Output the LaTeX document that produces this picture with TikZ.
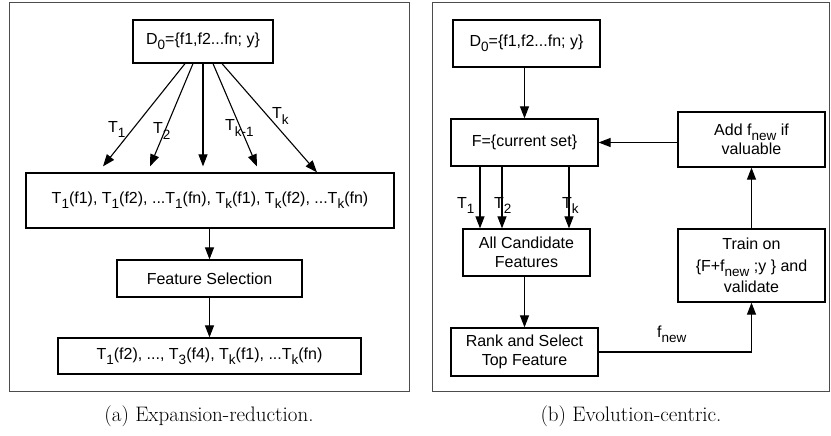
\documentclass[tikz,border=0pt]{standalone}
\usepackage{fontspec}
\newfontfamily\hv{Liberation Sans}
\usetikzlibrary{arrows.meta,calc}
\newcommand{\sbs}[1]{\raisebox{-0.33em}{\fontsize{13.5}{13.5}\selectfont #1}}
\begin{document}
\begin{tikzpicture}[x=1pt,y=-1pt,
  box/.style={draw=black,line width=1.25pt,inner sep=0pt,align=center,font=\hv\fontsize{16}{19.5}\selectfont},
  arr/.style={line width=1.1pt,-{Triangle[length=12pt,width=9pt]}},
  lbl/.style={font=\hv\fontsize{16}{16}\selectfont,inner sep=0pt,anchor=base west},
  frame/.style={draw=black!70,line width=1pt},
  captext/.style={font=\fontsize{21}{23}\selectfont,inner sep=0pt,anchor=base}]
\useasboundingbox (0,0) rectangle (831,436);
\fill[white] (0,0) rectangle (831,436);
% frames
\draw[frame] (9,3) rectangle (409,391);
\draw[frame] (432,3) rectangle (829.5,391);
% ---------- left panel
\node[box,minimum width=140pt,minimum height=43pt] (d0a) at (203,41.5) {D\sbs{0}=\{f1,f2...fn; y\}};
\node[box,minimum width=368pt,minimum height=55pt] (big) at (210,200.5)
  {T\sbs{1}(f1), T\sbs{1}(f2), ...T\sbs{1}(fn), T\sbs{k}(f1), T\sbs{k}(f2), ...T\sbs{k}(fn)};
\node[box,minimum width=185pt,minimum height=37pt] (fs) at (209.5,278.5) {Feature Selection};
\node[box,minimum width=303pt,minimum height=36pt] (bot) at (209.5,356)
  {T\sbs{1}(f2), ..., T\sbs{3}(f4), T\sbs{k}(f1), ...T\sbs{k}(fn)};
\draw[arr] ([xshift=-18pt]d0a.south) -- ([xshift=-107pt,yshift=6pt]big.north);
\draw[arr] ([xshift=-10pt]d0a.south) -- ([xshift=-60pt,yshift=6pt]big.north);
\draw[arr] (d0a.south) -- ([xshift=-7pt,yshift=6pt]big.north);
\draw[arr] ([xshift=10pt]d0a.south) -- ([xshift=47pt,yshift=6pt]big.north);
\draw[arr] ([xshift=19pt]d0a.south) -- ([xshift=107pt]big.north);
\node[lbl] (l1) at (108,132) {T\sbs{1}};
\node[lbl] (l2) at (153,134) {T\sbs{2}};
\node[lbl] (l3) at (225,131) {T\sbs{k-1}};
\node[lbl] (l4) at (272,119) {T\sbs{k}};
\draw[arr] (big.south -| fs.north) -- (fs.north);
\draw[arr] (fs.south) -- (bot.north);
\node[captext] (capa) at (209,421) {(a)\ Expansion-reduction.};
% ---------- right panel
\node[box,minimum width=147pt,minimum height=47pt] (d0b) at (526.5,43.5) {D\sbs{0}=\{f1,f2...fn; y\}};
\node[box,minimum width=147pt,minimum height=47pt] (fb) at (524.5,142.5) {F=\{current set\}};
\node[box,minimum width=147pt,minimum height=55pt] (add) at (751.5,139.5) {Add f\sbs{new} if\\valuable};
\node[box,minimum width=127pt,minimum height=47pt] (all) at (526.5,252.5) {All Candidate\\Features};
\node[box,minimum width=147pt,minimum height=73pt,font=\hv\fontsize{16}{21.5}\selectfont] (train) at (751.5,265.5) {Train on\\\{F+f\sbs{new} ;y \} and\\validate};
\node[box,minimum width=147pt,minimum height=48pt] (rank) at (524.5,352) {Rank and Select\\Top Feature};
\draw[arr] (d0b.south -| fb.north) -- (fb.north);
\draw[arr] (add.west |- fb.east) -- (fb.east);
\draw[arr] ([xshift=-44.5pt]fb.south) -- ([xshift=-46.5pt]all.north);
\draw[arr] ([xshift=-22.5pt]fb.south) -- ([xshift=-24.5pt]all.north);
\draw[arr] ([xshift=44.5pt]fb.south) -- ([xshift=42.5pt]all.north);
\node[lbl] (r1) at (457,208) {T\sbs{1}};
\node[lbl] (r2) at (494,208) {T\sbs{2}};
\node[lbl] (r3) at (562,208) {T\sbs{k}};
\draw[arr] (all.south -| rank.north) -- (rank.north);
\draw[arr] (rank.east) -| (train.south);
\node[lbl] (fn) at (657,337) {f\sbs{new}};
\draw[arr] (train.north) -- (add.south);
\node[captext] (capb) at (631,421) {(b)\ Evolution-centric.};
\end{tikzpicture}
\end{document}
